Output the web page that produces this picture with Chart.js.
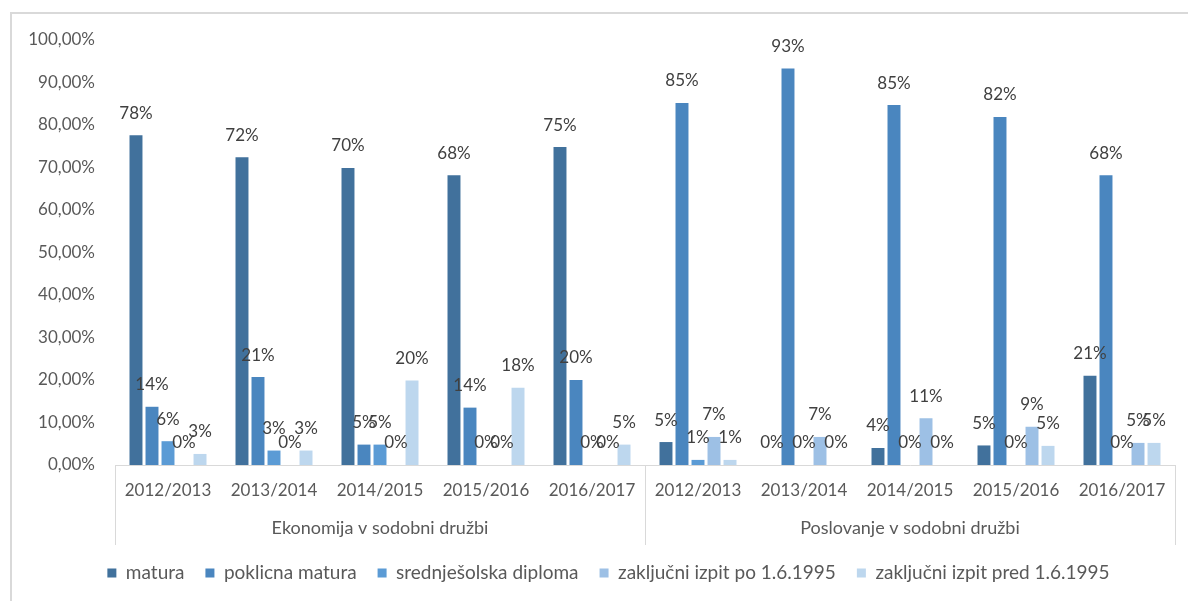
<!DOCTYPE html>
<html>
<head>
<meta charset="utf-8">
<script src="https://cdn.jsdelivr.net/npm/chart.js@4"></script>
<style>
html,body{margin:0;padding:0;background:#fff;}
canvas{display:block;}
</style>
</head>
<body>
<canvas id="c" width="1188" height="601"></canvas>
<script>
const years = ['2012/2013','2013/2014','2014/2015','2015/2016','2016/2017','2012/2013','2013/2014','2014/2015','2015/2016','2016/2017'];
const groups = ['Ekonomija v sodobni družbi','Poslovanje v sodobni družbi'];
const seriesNames = ['matura','poklicna matura','srednješolska diploma','zaključni izpit po 1.6.1995','zaključni izpit pred 1.6.1995'];
const matura = [77.6, 72.4, 69.9, 68.2, 74.8, 5.4, 0, 4.0, 4.6, 21.0];
const poklicna = [13.7, 20.7, 4.8, 13.5, 20.0, 85.2, 93.3, 84.7, 81.9, 68.2];
const srednje = [5.6, 3.4, 4.8, 0, 0, 1.2, 0, 0, 0, 0];
const zakljucniPo = [0, 0, 0, 0, 0, 6.6, 6.6, 11.0, 9.0, 5.2];
const zakljucniPred = [2.6, 3.4, 19.9, 18.2, 4.8, 1.2, 0, 0, 4.5, 5.2];
const yTicks = [0,10,20,30,40,50,60,70,80,90,100];
const colors = ['#41719C','#4A86BF','#5B9BD5','#9DC0E5','#BDD7EE'];

const FONT = 'Lato';
const seriesValues = [matura, poklicna, srednje, zakljucniPo, zakljucniPred];

const extras = {
  id: 'extras',
  afterLayout(chart) {
    const lg = chart.legend;
    if (lg) { lg.left += 21; lg.right += 21; }
  },
  beforeDraw(chart) {
    const ctx = chart.ctx;
    ctx.save();
    ctx.fillStyle = '#fff';
    ctx.fillRect(0, 0, chart.width, chart.height);
    ctx.strokeStyle = '#D9D9D9';
    ctx.lineWidth = 2;
    ctx.beginPath();
    ctx.moveTo(11, chart.height);
    ctx.lineTo(11, 13);
    ctx.lineTo(chart.width, 13);
    ctx.stroke();
    ctx.restore();
  },
  afterDraw(chart) {
    const ctx = chart.ctx;
    const x = chart.scales.x;
    const y = chart.scales.y;
    const base = y.getPixelForValue(0);
    const n = years.length;
    const step = (x.getPixelForValue(1) - x.getPixelForValue(0));
    const left = x.getPixelForValue(0) - step / 2;
    const right = x.getPixelForValue(n - 1) + step / 2;
    const mid = (left + right) / 2;
    ctx.save();
    ctx.strokeStyle = '#D9D9D9';
    ctx.lineWidth = 1;
    ctx.beginPath();
    [left, mid, right].forEach(px => {
      const p = Math.round(px) + 0.5;
      ctx.moveTo(p, base);
      ctx.lineTo(p, base + 80);
    });
    ctx.stroke();
    ctx.restore();
  },
  afterDatasetsDraw(chart) {
    const ctx = chart.ctx;
    ctx.save();
    ctx.font = '17px ' + FONT;
    ctx.fillStyle = '#404040';
    ctx.textAlign = 'center';
    ctx.textBaseline = 'middle';
    chart.data.datasets.forEach((ds, i) => {
      const meta = chart.getDatasetMeta(i);
      meta.data.forEach((el, j) => {
        const v = ds.data[j];
        ctx.fillText(Math.round(v) + '%', el.x, el.y - 22);
      });
    });
    ctx.restore();
  }
};

new Chart(document.getElementById('c'), {
  type: 'bar',
  data: {
    labels: years,
    datasets: seriesNames.map((name, i) => ({
      label: name,
      data: seriesValues[i],
      backgroundColor: colors[i],
      borderWidth: 0,
      categoryPercentage: 0.755,
      barPercentage: 0.81
    }))
  },
  options: {
    responsive: false,
    devicePixelRatio: 1,
    animation: false,
    layout: { padding: { left: 0, right: 13, top: 40, bottom: 8.5 } },
    plugins: {
      legend: {
        position: 'bottom',
        labels: {
          boxWidth: 9,
          boxHeight: 9,
          padding: 21,
          color: '#595959',
          font: { family: FONT, size: 19 }
        }
      },
      tooltip: { enabled: false }
    },
    scales: {
      y: {
        min: 0,
        max: 100,
        afterBuildTicks: s => { s.ticks = yTicks.map(v => ({ value: v })); },
        afterFit: s => { s.width = 115; },
        grid: { display: false, drawTicks: false },
        border: { display: false },
        ticks: {
          padding: 20,
          color: '#595959',
          font: { family: FONT, size: 17 },
          callback: v => v.toFixed(2).replace('.', ',') + '%'
        }
      },
      x: {
        weight: 0,
        afterFit: s => { s.height = 45; },
        grid: { display: false, drawTicks: false },
        border: { display: true, color: '#D9D9D9', width: 1 },
        ticks: {
          padding: 15,
          maxRotation: 0,
          autoSkip: false,
          color: '#595959',
          font: { family: FONT, size: 17 }
        }
      },
      x2: {
        type: 'category',
        labels: groups,
        position: 'bottom',
        offset: true,
        weight: 1,
        afterFit: s => { s.height = 32.5; },
        grid: { display: false, drawTicks: false },
        border: { display: false },
        ticks: {
          padding: 7,
          maxRotation: 0,
          autoSkip: false,
          color: '#595959',
          font: { family: FONT, size: 18 }
        }
      }
    }
  },
  plugins: [extras]
});
</script>
</body>
</html>
